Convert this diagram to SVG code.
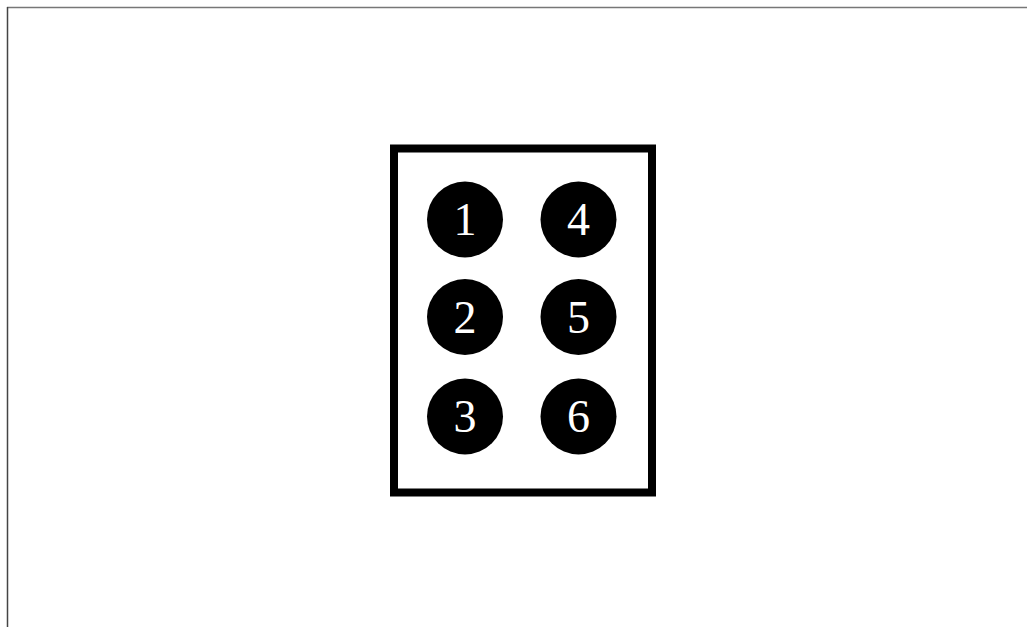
<svg xmlns="http://www.w3.org/2000/svg" width="1027" height="627" viewBox="0 0 1027 627">
<style>
.dot{fill:#000}
.lbl{font-family:"Liberation Serif","Times New Roman",serif;font-size:46px;fill:#fff;text-anchor:middle}
</style>
<rect width="1027" height="627" fill="#fff"/>
<line x1="7" y1="7.5" x2="1027" y2="7.5" stroke="#777" stroke-width="1.5"/>
<line x1="7.5" y1="7" x2="7.5" y2="627" stroke="#444" stroke-width="1.5"/>
<g id="frame"><rect x="394" y="148.5" width="258" height="344" fill="none" stroke="#000" stroke-width="8"/></g>
<g id="dot1"><circle class="dot" cx="465" cy="219.5" r="38"/><text class="lbl" x="465" y="235">1</text></g>
<g id="dot2"><circle class="dot" cx="465" cy="317" r="38"/><text class="lbl" x="465" y="333">2</text></g>
<g id="dot3"><circle class="dot" cx="465" cy="416.5" r="38"/><text class="lbl" x="465" y="432">3</text></g>
<g id="dot4"><circle class="dot" cx="578.5" cy="219.5" r="38"/><text class="lbl" x="578.5" y="235">4</text></g>
<g id="dot5"><circle class="dot" cx="578.5" cy="317" r="38"/><text class="lbl" x="578.5" y="333">5</text></g>
<g id="dot6"><circle class="dot" cx="578.5" cy="416.5" r="38"/><text class="lbl" x="578.5" y="432">6</text></g>
<g id="connectors"/>
</svg>
